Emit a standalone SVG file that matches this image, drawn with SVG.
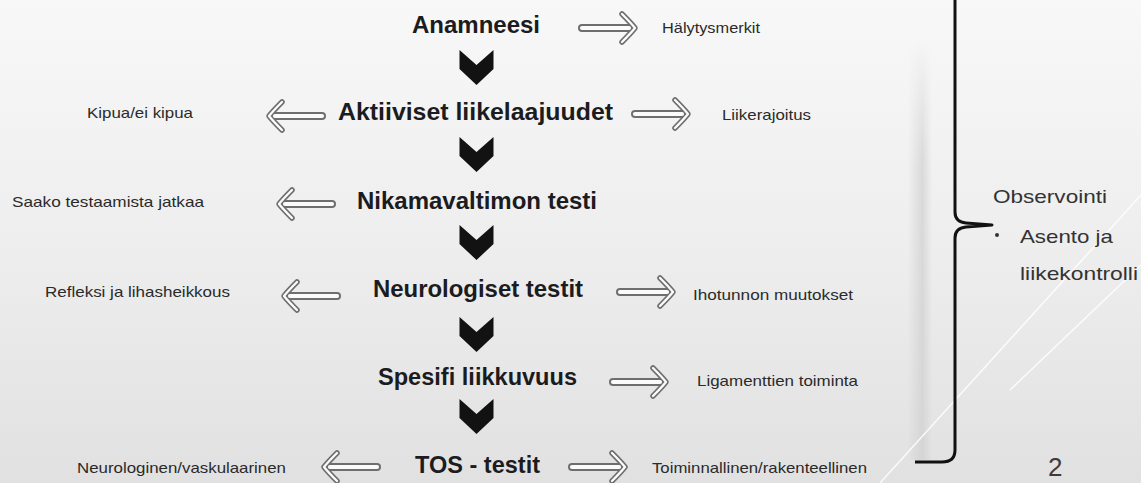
<svg xmlns="http://www.w3.org/2000/svg" xmlns:xlink="http://www.w3.org/1999/xlink" width="1141" height="483" viewBox="0 0 1141 483">
<defs>
<linearGradient id="bg" x1="0" y1="0" x2="0" y2="1">
<stop offset="0" stop-color="#f8f8f8"/>
<stop offset="0.5" stop-color="#eeeeee"/>
<stop offset="1" stop-color="#e1e1e1"/>
</linearGradient>
<linearGradient id="band" x1="0" y1="0" x2="1" y2="0">
<stop offset="0" stop-color="#cfcfcf" stop-opacity="0"/>
<stop offset="0.6" stop-color="#cfcfcf" stop-opacity="0.7"/>
<stop offset="1" stop-color="#cfcfcf" stop-opacity="0"/>
</linearGradient>
<linearGradient id="fadev" x1="0" y1="0" x2="0" y2="1">
<stop offset="0" stop-color="#fff" stop-opacity="0"/>
<stop offset="0.3" stop-color="#fff" stop-opacity="1"/>
<stop offset="1" stop-color="#fff" stop-opacity="1"/>
</linearGradient>
<mask id="bandmask"><rect x="900" y="40" width="40" height="420" fill="url(#fadev)"/></mask>
<style>
.main{font-family:"Liberation Sans",Arial,sans-serif;font-weight:bold;font-size:24px;fill:#1b1b20}
.side{font-family:"Liberation Sans",Arial,sans-serif;font-size:15px;fill:#2a2a2a}
.obs{font-family:"Liberation Sans",Arial,sans-serif;font-size:19px;fill:#333}
.ao{fill:none;stroke:#6e6e6e;stroke-linecap:round;stroke-linejoin:round}
.ai{fill:none;stroke:#fbfbfb;stroke-linecap:round;stroke-linejoin:round}
.s.ao{stroke-width:8}
.s.ai{stroke-width:4.2}
.h.ao{stroke-width:5.5}
.h.ai{stroke-width:2.3}
.chev{fill:#121212}
</style>
<g id="arr">
<path class="ao s" d="M-54 0 H-7"/>
<path class="ao h" d="M-14 -14 Q-5 -5 -1 0 Q-5 5 -14 14"/>
<path class="ai s" d="M-54 0 H-7"/>
<path class="ai h" d="M-14 -14 Q-5 -5 -1 0 Q-5 5 -14 14"/>
</g>
<polygon id="chv" class="chev" points="-17,0 0,15 17,0 17,19 0,35 -17,19"/>
</defs>
<rect x="0" y="0" width="1141" height="483" fill="url(#bg)"/>
<rect x="908" y="40" width="24" height="420" fill="url(#band)" mask="url(#bandmask)"/>
<g stroke="#ffffff" stroke-width="1.5" opacity="0.85">
<line x1="880" y1="483" x2="1141" y2="195"/>
<line x1="1010" y1="390" x2="1141" y2="265"/>
</g>

<g id="connectors">
<use xlink:href="#chv" x="476.5" y="50"/>
<use xlink:href="#chv" x="476.5" y="137"/>
<use xlink:href="#chv" x="476.5" y="225"/>
<use xlink:href="#chv" x="476.5" y="317"/>
<use xlink:href="#chv" x="476.5" y="399"/>
<use xlink:href="#arr" transform="translate(636,28)"/>
<use xlink:href="#arr" transform="translate(689,114)"/>
<use xlink:href="#arr" transform="translate(268,116) scale(-1,1)"/>
<use xlink:href="#arr" transform="translate(278,204) scale(-1,1)"/>
<use xlink:href="#arr" transform="translate(283,296) scale(-1,1)"/>
<use xlink:href="#arr" transform="translate(674,292)"/>
<use xlink:href="#arr" transform="translate(667,382)"/>
<use xlink:href="#arr" transform="translate(323,467) scale(-1,1)"/>
<use xlink:href="#arr" transform="translate(626,467)"/>
</g>

<g id="n-anamneesi"><text class="main" x="412" y="33" textLength="128" lengthAdjust="spacingAndGlyphs">Anamneesi</text></g>
<g id="n-halytysmerkit"><text class="side" x="662" y="33" textLength="98" lengthAdjust="spacingAndGlyphs">Hälytysmerkit</text></g>
<g id="n-aktiiviset"><text class="main" x="338" y="120" textLength="275" lengthAdjust="spacingAndGlyphs">Aktiiviset  liikelaajuudet</text></g>
<g id="n-kipua"><text class="side" x="87" y="118" textLength="106" lengthAdjust="spacingAndGlyphs">Kipua/ei kipua</text></g>
<g id="n-liikerajoitus"><text class="side" x="722" y="120" textLength="89" lengthAdjust="spacingAndGlyphs">Liikerajoitus</text></g>
<g id="n-nikama"><text class="main" x="357" y="209" textLength="240" lengthAdjust="spacingAndGlyphs">Nikamavaltimon testi</text></g>
<g id="n-saako"><text class="side" x="12" y="207" textLength="192" lengthAdjust="spacingAndGlyphs">Saako testaamista jatkaa</text></g>
<g id="n-neuro"><text class="main" x="373" y="297" textLength="210" lengthAdjust="spacingAndGlyphs">Neurologiset testit</text></g>
<g id="n-refleksi"><text class="side" x="45" y="297" textLength="185" lengthAdjust="spacingAndGlyphs">Refleksi ja lihasheikkous</text></g>
<g id="n-ihotunnon"><text class="side" x="693" y="300" textLength="160" lengthAdjust="spacingAndGlyphs">Ihotunnon muutokset</text></g>
<g id="n-spesifi"><text class="main" x="378" y="385" textLength="199" lengthAdjust="spacingAndGlyphs">Spesifi liikkuvuus</text></g>
<g id="n-ligamentit"><text class="side" x="697" y="386" textLength="161" lengthAdjust="spacingAndGlyphs">Ligamenttien toiminta</text></g>
<g id="n-tos"><text class="main" x="415" y="473" textLength="125" lengthAdjust="spacingAndGlyphs">TOS - testit</text></g>
<g id="n-neurovask"><text class="side" x="77" y="473" textLength="209" lengthAdjust="spacingAndGlyphs">Neurologinen/vaskulaarinen</text></g>
<g id="n-toiminnallinen"><text class="side" x="652" y="473" textLength="215" lengthAdjust="spacingAndGlyphs">Toiminnallinen/rakenteellinen</text></g>

<g id="brace">
<path d="M955 -5 V212 Q955 222 966 223 L992 225 L966 227 Q955 228 955 238 V450 Q955 462 942 462 H915" fill="none" stroke="#111" stroke-width="3" stroke-linejoin="round"/>
</g>
<g id="n-observointi">
<text class="obs" x="993" y="203" textLength="114" lengthAdjust="spacingAndGlyphs">Observointi</text>
<circle cx="997" cy="235" r="2" fill="#333"/>
<text class="obs" x="1020" y="243" textLength="93" lengthAdjust="spacingAndGlyphs">Asento ja</text>
<text class="obs" x="1020" y="280" textLength="118" lengthAdjust="spacingAndGlyphs">liikekontrolli</text>
</g>
<g id="pagenum"><text x="1048" y="476" style="font-family:'Liberation Sans',Arial,sans-serif;font-size:26px;fill:#3c3c3c">2</text></g>
</svg>
